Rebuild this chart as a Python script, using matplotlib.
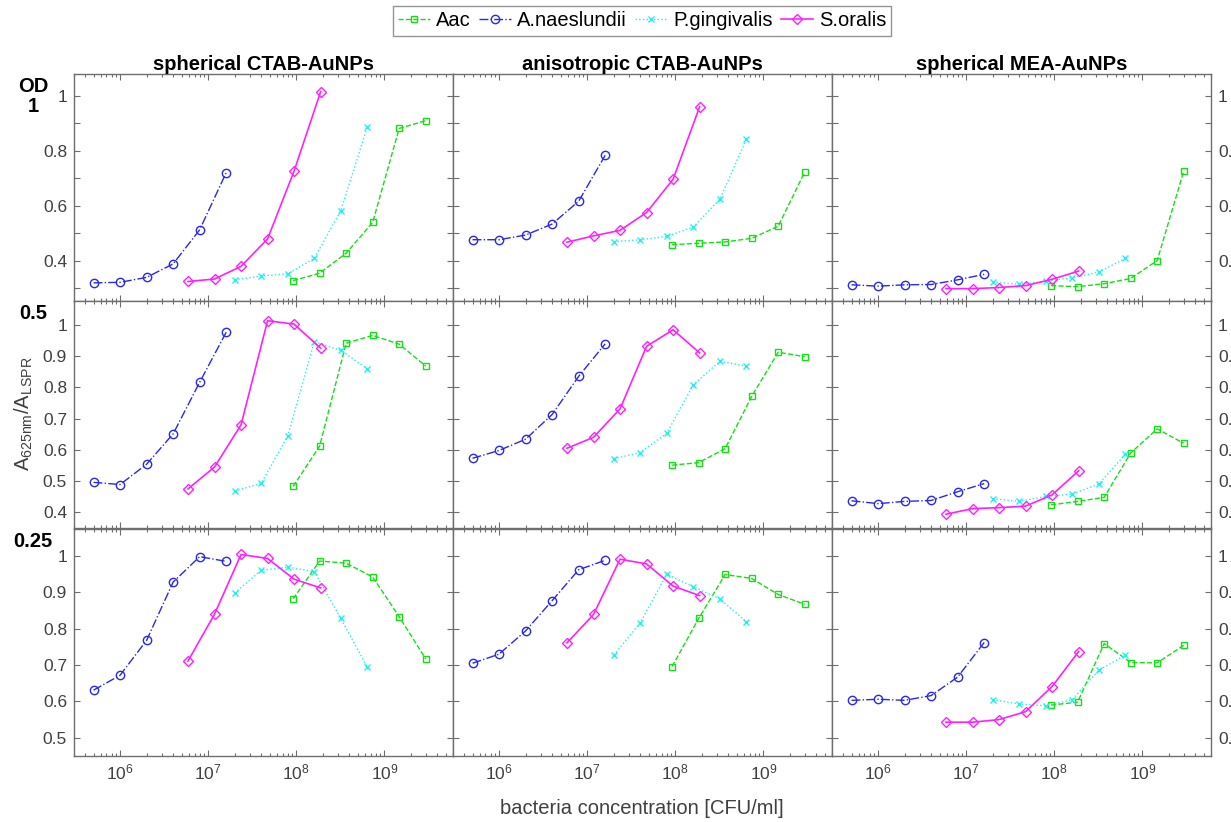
import matplotlib
matplotlib.use("Agg")
import matplotlib.pyplot as plt
from matplotlib.ticker import FixedLocator, LogLocator, NullFormatter, FormatStrFormatter
import numpy as np

plt.rcParams['font.family'] = ['Liberation Sans', 'DejaVu Sans']
plt.rcParams['mathtext.fontset'] = 'custom'
plt.rcParams['mathtext.rm'] = 'Liberation Sans'

# x values (CFU/ml) for each bacterium
x_aac = [9.2e7, 1.84e8, 3.68e8, 7.36e8, 1.47e9, 2.94e9]
x_naes = [5e5, 1e6, 2e6, 4e6, 8e6, 1.6e7]
x_ging = [2e7, 4e7, 8e7, 1.6e8, 3.2e8, 6.4e8]
x_oral = [5.9e6, 1.18e7, 2.36e7, 4.72e7, 9.44e7, 1.89e8]

col_titles = ['spherical CTAB-AuNPs', 'anisotropic CTAB-AuNPs', 'spherical MEA-AuNPs']
row_labels = ['OD\n1', '0.5', '0.25']

# [row][col] values, A625/ALSPR
aac = [
    [[0.327, 0.354, 0.427, 0.539, 0.881, 0.909],
     [0.458, 0.463, 0.468, 0.481, 0.525, 0.722],
     [0.309, 0.305, 0.316, 0.335, 0.400, 0.725]],
    [[0.483, 0.612, 0.941, 0.966, 0.938, 0.868],
     [0.551, 0.559, 0.604, 0.771, 0.912, 0.898],
     [0.424, 0.435, 0.448, 0.590, 0.667, 0.621]],
    [[0.882, 0.986, 0.980, 0.942, 0.833, 0.717],
     [0.696, 0.828, 0.949, 0.938, 0.894, 0.867],
     [0.590, 0.598, 0.759, 0.707, 0.706, 0.754]],
]
naes = [
    [[0.319, 0.321, 0.339, 0.388, 0.512, 0.720],
     [0.476, 0.476, 0.493, 0.533, 0.616, 0.783],
     [0.312, 0.307, 0.312, 0.313, 0.330, 0.350]],
    [[0.496, 0.489, 0.554, 0.651, 0.816, 0.976],
     [0.573, 0.598, 0.634, 0.713, 0.835, 0.939],
     [0.437, 0.428, 0.435, 0.438, 0.466, 0.492]],
    [[0.631, 0.672, 0.768, 0.928, 0.998, 0.985],
     [0.705, 0.730, 0.794, 0.877, 0.962, 0.988],
     [0.603, 0.606, 0.603, 0.616, 0.667, 0.762]],
]
ging = [
    [[0.330, 0.344, 0.352, 0.408, 0.582, 0.887],
     [0.469, 0.476, 0.488, 0.522, 0.623, 0.842],
     [0.321, 0.314, 0.324, 0.338, 0.358, 0.408]],
    [[0.468, 0.493, 0.644, 0.946, 0.918, 0.859],
     [0.572, 0.591, 0.653, 0.808, 0.883, 0.868],
     [0.444, 0.435, 0.451, 0.458, 0.491, 0.586]],
    [[0.898, 0.961, 0.969, 0.957, 0.828, 0.694],
     [0.727, 0.816, 0.950, 0.915, 0.882, 0.819],
     [0.605, 0.593, 0.588, 0.605, 0.686, 0.727]],
]
oral = [
    [[0.324, 0.333, 0.379, 0.479, 0.726, 1.015],
     [0.467, 0.490, 0.510, 0.575, 0.696, 0.960],
     [0.298, 0.298, 0.302, 0.309, 0.332, 0.362]],
    [[0.475, 0.545, 0.680, 1.013, 1.002, 0.925],
     [0.605, 0.640, 0.731, 0.931, 0.984, 0.910],
     [0.394, 0.412, 0.415, 0.420, 0.456, 0.533]],
    [[0.711, 0.840, 1.004, 0.993, 0.936, 0.912],
     [0.761, 0.839, 0.991, 0.978, 0.917, 0.891],
     [0.543, 0.543, 0.550, 0.572, 0.641, 0.737]],
]

row_ylim = [(0.253, 1.079), (0.35, 1.076), (0.45, 1.074)]
row_major = [[0.4, 0.6, 0.8, 1.0], [0.4, 0.5, 0.6, 0.7, 0.8, 0.9, 1.0], [0.5, 0.6, 0.7, 0.8, 0.9, 1.0]]
row_minor = [[0.3, 0.5, 0.7, 0.9], [], []]

W, H = 1231, 822
fig = plt.figure(figsize=(W / 100, H / 100), dpi=100)

col_left = [74, 453, 832]
col_w = 379
row_top = [74, 301, 529]
row_h = 227

spine_c = '#6e6e6e'
tick_c = '#404040'

series = [
    ('Aac', x_aac, aac, dict(color='#14e014', ls='--', marker='s', ms=4.5, lw=1.0)),
    ('A.naeslundii', x_naes, naes, dict(color='#2828f0', ls='-.', marker='o', ms=6, lw=1.0)),
    ('P.gingivalis', x_ging, ging, dict(color='#20f0f0', ls=':', marker='x', ms=4.5, lw=1.0)),
    ('S.oralis', x_oral, oral, dict(color='#ff20ff', ls='-', marker='D', ms=5.5, lw=1.2)),
]

handles = []
for r in range(3):
    for c in range(3):
        ax = fig.add_axes([col_left[c] / W, 1 - (row_top[r] + row_h) / H, col_w / W, row_h / H])
        for name, xs, vals, st in series:
            ln, = ax.plot(xs, vals[r][c], mfc='none', mew=1.0, label=name, **st)
            if r == 0 and c == 0:
                handles.append(ln)
        ax.set_xscale('log')
        ax.set_xlim(3e5, 6e9)
        ax.set_ylim(*row_ylim[r])
        ax.xaxis.set_major_locator(FixedLocator([1e6, 1e7, 1e8, 1e9]))
        ax.xaxis.set_minor_locator(LogLocator(base=10, subs=np.arange(2, 10)))
        ax.xaxis.set_minor_formatter(NullFormatter())
        ax.yaxis.set_major_locator(FixedLocator(row_major[r]))
        ax.yaxis.set_minor_locator(FixedLocator(row_minor[r]))
        ax.yaxis.set_major_formatter(FormatStrFormatter('%g'))
        ax.tick_params(which='both', direction='in', top=True, right=True,
                       colors=spine_c, labelcolor=tick_c, labelsize=12.5, width=0.8)
        ax.tick_params(which='major', length=4, pad=5)
        ax.tick_params(axis='y', which='minor', length=4)
        ax.tick_params(axis='x', which='minor', length=2.5)
        if r < 2:
            ax.tick_params(axis='x', labelbottom=False)
        if c == 1:
            ax.tick_params(axis='y', labelleft=False)
        if c == 2:
            ax.tick_params(axis='y', labelleft=False, labelright=True)
        for sp in ax.spines.values():
            sp.set_color(spine_c)
            sp.set_linewidth(1.0)
        if r == 0:
            ax.set_title(col_titles[c], fontsize=14.5, fontweight='bold', pad=3)

for r in range(3):
    fig.text(33 / W, 1 - (row_top[r] + 3) / H, row_labels[r], ha='center', va='top',
             fontsize=14.5, fontweight='bold', linespacing=1.05)

fig.text(24 / W, 1 - 414 / H, r'$\mathregular{A_{625nm}/A_{LSPR}}$', rotation=90,
         ha='center', va='center', fontsize=14.5, color=tick_c)
fig.text(642 / W, 1 - 808 / H, 'bacteria concentration [CFU/ml]', ha='center', va='center',
         fontsize=14.5, color=tick_c)

leg = fig.legend(handles=handles, loc='center', bbox_to_anchor=(642 / W, 1 - 21 / H), ncol=4,
                 fontsize=14.5, frameon=True, fancybox=False, edgecolor='#7a7a7a',
                 handlelength=1.6, handletextpad=0.3, columnspacing=0.4, borderpad=0.25,
                 borderaxespad=0)
leg.get_frame().set_linewidth(1.0)

fig.savefig('out.png', dpi=100)
